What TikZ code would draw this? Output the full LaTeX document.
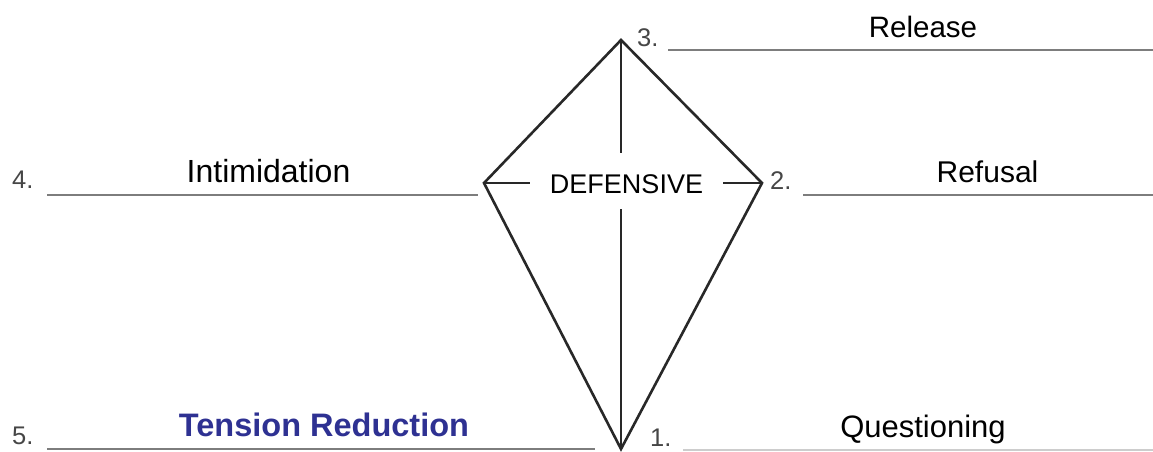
\documentclass[tikz,border=0pt]{standalone}
\usepackage{fontspec}
\setmainfont{Liberation Sans}
\definecolor{kiteline}{RGB}{40,40,40}
\definecolor{ruleline}{RGB}{125,125,125}
\definecolor{faintline}{RGB}{205,205,205}
\definecolor{numgray}{RGB}{70,70,70}
\definecolor{tblue}{RGB}{46,49,146}
\tikzset{
  kite/.style={draw=kiteline, line width=2.6pt, line join=miter, line cap=butt},
  rule/.style={draw=ruleline, line width=2pt},
  faintrule/.style={draw=faintline, line width=1.6pt},
  lbl/.style={inner sep=0pt, anchor=base, text=black},
  num/.style={inner sep=0pt, anchor=base west, text=numgray, font=\fontsize{25.5}{27}\selectfont},
}
\begin{document}
\begin{tikzpicture}[x=1pt,y=-1pt]
\useasboundingbox (0,0) rectangle (1153,451);
\fill[white] (0,0) rectangle (1153,451);
% kite vertices
\coordinate (T) at (621,40);
\coordinate (L) at (484,183);
\coordinate (R) at (762,183);
\coordinate (B) at (621,449);
% centre label with gap box
\node[inner sep=0pt, minimum width=193pt, minimum height=56pt] (defbox) at (626.5,181) {};
\node[lbl, font=\fontsize{27}{30}\selectfont] (def) at (626.5,193) {DEFENSIVE};
% kite outline
\draw[kite] (T) -- (R) -- (B) -- (L) -- cycle;
% cross lines with gap
\draw[kite] (T) -- (T |- defbox.north);
\draw[kite] (B |- defbox.south) -- (B);
\draw[kite] (L) -- (defbox.west |- L);
\draw[kite] (defbox.east |- R) -- (R);
% rule end points
\coordinate (r3a) at (668,50);  \coordinate (r3b) at (1153,50);
\coordinate (r4a) at (47,195);  \coordinate (r4b) at (478,195);
\coordinate (r2a) at (803,195); \coordinate (r2b) at (1153,195);
\coordinate (r5a) at (47,449);  \coordinate (r5b) at (595,449);
\coordinate (r1a) at (683,450); \coordinate (r1b) at (1153,450);
\draw[rule] (r3a) -- (r3b);
\draw[rule] (r4a) -- (r4b);
\draw[rule] (r2a) -- (r2b);
\draw[rule] (r5a) -- (r5b);
\draw[faintrule] (r1a) -- (r1b);
% numbers
\node[num] (n3) at (637,46) {3.};
\node[num] (n4) at (12,188) {4.};
\node[num] (n2) at (770,189) {2.};
\node[num] (n5) at (12,444) {5.};
\node[num] (n1) at (650,446) {1.};
% labels
\node[lbl, font=\fontsize{29.5}{32}\selectfont] (release) at (923,37) {Release};
\node[lbl, font=\fontsize{32}{34}\selectfont] (intim) at (268.5,182) {Intimidation};
\node[lbl, font=\fontsize{30}{32}\selectfont] (refusal) at (987.5,182) {Refusal};
\node[lbl, font=\bfseries\fontsize{32.5}{34}\selectfont, text=tblue] (tension) at (324,436) {Tension Reduction};
\node[lbl, font=\fontsize{31}{33}\selectfont] (quest) at (923,437) {Questioning};
\end{tikzpicture}
\end{document}
